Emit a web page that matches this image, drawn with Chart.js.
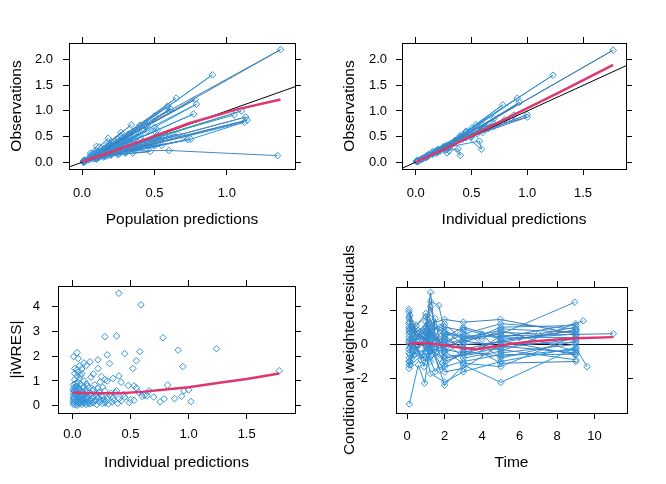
<!DOCTYPE html>
<html><head><meta charset="utf-8">
<script src="https://cdn.jsdelivr.net/npm/chart.js@4.4.0/dist/chart.umd.min.js"></script>
<style>
html,body{margin:0;padding:0;background:#fff;}
body{width:666px;height:484px;position:relative;overflow:hidden;}
canvas{position:absolute;}
</style></head><body>
<canvas id="c1" width="333" height="242" style="left:0;top:0"></canvas>
<canvas id="c2" width="333" height="242" style="left:333px;top:0"></canvas>
<canvas id="c3" width="333" height="242" style="left:0;top:242px"></canvas>
<canvas id="c4" width="333" height="254" style="left:333px;top:230px"></canvas>
<script>
// ---------- Panel 1: Observations vs Population predictions (one list per ID) ----------
const dvPredIds = [
 [[0.01,0.02],[0.1,0.16],[0.3,0.5],[0.6,1.0],[1.37,2.19],[0.45,0.72],[0.15,0.22]],
 [[0.02,0.03],[0.12,0.22],[0.35,0.6],[0.9,1.7],[0.5,0.9],[0.2,0.33],[0.05,0.08]],
 [[0.01,0.02],[0.08,0.14],[0.25,0.45],[0.65,1.25],[0.4,0.72],[0.15,0.27]],
 [[0.02,0.03],[0.15,0.22],[0.33,0.52],[0.78,1.22],[0.44,0.7],[0.18,0.3]],
 [[0.01,0.01],[0.1,0.14],[0.3,0.43],[0.79,1.13],[0.5,0.68],[0.2,0.28]],
 [[0.02,0.04],[0.1,0.18],[0.27,0.5],[0.59,1.09],[0.35,0.6],[0.12,0.2]],
 [[0.01,0.02],[0.14,0.24],[0.32,0.55],[0.61,1.04],[0.42,0.66],[0.16,0.25]],
 [[0.01,0.01],[0.12,0.15],[0.35,0.42],[0.77,0.94],[0.5,0.6],[0.2,0.25]],
 [[0.02,0.02],[0.15,0.12],[0.4,0.33],[1.13,0.88],[0.6,0.48],[0.25,0.2]],
 [[0.01,0.01],[0.2,0.15],[0.5,0.38],[1.14,0.82],[0.7,0.5],[0.3,0.22]],
 [[0.02,0.02],[0.18,0.13],[0.45,0.32],[1.12,0.78],[0.75,0.45],[0.3,0.18]],
 [[0.01,0.02],[0.1,0.12],[0.3,0.22],[0.6,0.23],[1.35,0.13]],
 [[0.01,0.01],[0.1,0.08],[0.3,0.2],[0.73,0.44],[0.5,0.32],[0.25,0.15]],
 [[0.02,0.03],[0.1,0.16],[0.44,0.7],[0.3,0.45],[0.12,0.18]],
 [[0.01,0.02],[0.1,0.2],[0.34,0.73],[0.2,0.4],[0.06,0.12]],
 [[0.01,0.02],[0.08,0.16],[0.27,0.58],[0.18,0.36]],
 [[0.01,0.02],[0.06,0.14],[0.18,0.47],[0.12,0.3]],
 [[0.01,0.03],[0.1,0.31],[0.06,0.18]],
 [[0.01,0.01],[0.1,0.06],[0.25,0.15],[0.47,0.21],[0.35,0.18]],
 [[0.02,0.02],[0.15,0.1],[0.4,0.3],[0.55,0.33],[0.3,0.22]],
 [[0.02,0.02],[0.2,0.2],[0.5,0.48],[1.1,1.0],[0.6,0.55],[0.25,0.22]],
 [[0.01,0.01],[0.1,0.1],[0.42,0.4],[0.32,0.3],[0.1,0.09]],
 [[0.02,0.02],[0.12,0.12],[0.3,0.3],[0.22,0.2]],
 [[0.01,0.01],[0.1,0.12],[0.38,0.5],[0.28,0.38],[0.08,0.1]],
 [[0.02,0.02],[0.15,0.2],[0.52,0.62],[0.4,0.48],[0.15,0.17]],
 [[0.01,0.01],[0.2,0.18],[0.66,0.55],[0.45,0.4]],
 [[0.01,0.01],[0.08,0.06],[0.25,0.18],[0.35,0.26],[0.2,0.14]],
 [[0.01,0.02],[0.05,0.06],[0.15,0.17],[0.22,0.26],[0.1,0.11]],
 [[0.01,0.01],[0.05,0.05],[0.18,0.22],[0.4,0.55],[0.3,0.38],[0.12,0.14]],
 [[0.02,0.02],[0.1,0.09],[0.28,0.26],[0.48,0.45],[0.36,0.35],[0.14,0.13]],
 [[0.01,0.01],[0.07,0.08],[0.2,0.28],[0.32,0.4],[0.25,0.3],[0.09,0.1]],
 [[0.02,0.03],[0.12,0.1],[0.35,0.25],[0.5,0.35],[0.38,0.28],[0.16,0.12]],
 [[0.01,0.02],[0.08,0.1],[0.22,0.3],[0.45,0.62],[0.33,0.46],[0.12,0.15]],
 [[0.02,0.02],[0.15,0.18],[0.38,0.36],[0.55,0.48],[0.42,0.4],[0.2,0.19]]
];
const dvPredTeal = [[0.01,0.02],[0.1,0.12],[0.25,0.28],[0.52,0.5],[1.05,0.92]];
const dvPredLoess = [[0.0,0.01],[0.2,0.2],[0.46,0.47],[0.74,0.76],[1.07,1.03],[1.37,1.22]];

// ---------- Panel 2: Observations vs Individual predictions ----------
const dvIpredIds = [
 [[0.01,0.02],[0.1,0.12],[0.35,0.42],[0.7,0.85],[1.77,2.19],[0.6,0.72],[0.2,0.24]],
 [[0.02,0.03],[0.15,0.2],[0.45,0.6],[1.23,1.70],[0.5,0.66],[0.18,0.22]],
 [[0.01,0.02],[0.12,0.14],[0.4,0.48],[0.91,1.25],[0.45,0.58],[0.15,0.17]],
 [[0.02,0.02],[0.2,0.22],[0.5,0.6],[0.93,1.17],[0.55,0.62],[0.2,0.2]],
 [[0.01,0.01],[0.15,0.2],[0.4,0.52],[0.78,1.12],[0.4,0.5],[0.12,0.15]],
 [[0.02,0.02],[0.2,0.2],[0.55,0.55],[1.00,0.93],[0.6,0.58],[0.25,0.26]],
 [[0.01,0.01],[0.18,0.17],[0.5,0.5],[1.0,0.88],[0.7,0.7],[0.3,0.3]],
 [[0.02,0.02],[0.2,0.22],[0.45,0.5],[0.59,0.25],[0.57,0.41],[0.3,0.3]],
 [[0.01,0.02],[0.15,0.16],[0.3,0.33],[0.40,0.13],[0.38,0.26],[0.2,0.2]],
 [[0.02,0.03],[0.2,0.22],[0.54,0.73],[0.35,0.42],[0.1,0.11]],
 [[0.01,0.01],[0.12,0.14],[0.45,0.6],[0.7,0.75],[0.35,0.38],[0.1,0.1]],
 [[0.02,0.02],[0.1,0.1],[0.3,0.33],[0.28,0.18],[0.22,0.22]],
 [[0.01,0.01],[0.08,0.09],[0.25,0.28],[0.5,0.5],[0.32,0.34],[0.1,0.12]],
 [[0.02,0.02],[0.2,0.24],[0.62,0.7],[0.8,0.83],[0.42,0.46]],
 [[0.01,0.01],[0.06,0.06],[0.18,0.2],[0.35,0.4],[0.22,0.24],[0.05,0.05]],
 [[0.02,0.03],[0.1,0.1],[0.22,0.25],[0.15,0.16]],
 [[0.01,0.01],[0.05,0.06],[0.15,0.16],[0.1,0.1]],
 [[0.02,0.02],[0.3,0.32],[0.45,0.48],[0.6,0.66],[0.42,0.45]],
 [[0.01,0.01],[0.33,0.36],[0.3,0.22],[0.25,0.27]],
 [[0.02,0.02],[0.65,0.66],[0.85,0.86],[0.5,0.52]],
 [[0.01,0.01],[0.25,0.3],[0.36,0.42],[0.28,0.33],[0.08,0.09]],
 [[0.02,0.02],[0.12,0.15],[0.2,0.24],[0.26,0.3],[0.16,0.18]],
 [[0.01,0.01],[0.07,0.08],[0.17,0.19],[0.27,0.3],[0.19,0.2],[0.06,0.07]],
 [[0.02,0.02],[0.11,0.13],[0.24,0.27],[0.4,0.44],[0.29,0.31],[0.09,0.1]]
];
const dvIpredTeal = [[0.01,0.02],[0.2,0.22],[0.5,0.55],[0.88,0.92]];
const dvIpredLoess = [[0.0,0.0],[0.3,0.3],[0.6,0.62],[0.92,0.97],[1.3,1.38],[1.77,1.9]];

// ---------- Panel 3: |iWRES| vs Individual predictions ----------
const iwresPoints = [
 [0.40,4.53],[0.59,4.06],[0.28,2.78],[0.38,2.81],[0.78,2.74],[1.24,2.30],[0.91,2.24],[0.58,2.18],
 [0.45,2.10],[0.30,2.05],[0.04,2.14],[0.01,1.98],[0.95,1.58],[0.55,1.81],[0.52,1.50],[0.32,1.70],
 [0.22,1.85],[0.22,1.50],[0.15,1.77],[0.10,1.72],[0.06,1.60],[0.04,1.45],[0.02,1.50],[0.08,1.48],
 [0.05,1.90],[0.12,1.62],[0.18,1.28],[0.25,1.18],[0.40,1.20],[0.35,1.10],[0.42,0.95],[0.30,1.00],
 [0.28,1.05],[0.48,0.82],[0.53,0.80],[0.55,0.72],[0.62,0.42],[0.64,0.40],[0.60,0.38],[0.82,0.83],
 [1.78,1.41],[1.02,0.17],[0.755,0.16],[0.79,0.28],[0.88,0.29],[0.94,0.38],[0.96,0.60],[1.0,0.64],
 [0.49,0.13],[0.45,0.35],[0.40,0.28],[0.36,0.22],[0.38,0.60],[0.33,0.50],[0.26,0.35],
 [0.01,0.05],[0.01,0.20],[0.01,0.35],[0.01,0.55],[0.01,0.70],[0.01,0.85],[0.02,0.10],[0.02,0.45],
 [0.02,1.05],[0.03,0.15],[0.03,0.30],[0.03,0.62],[0.03,0.90],[0.04,0.02],[0.04,0.40],[0.04,0.78],
 [0.04,1.20],[0.05,0.22],[0.05,0.50],[0.05,0.95],[0.06,0.08],[0.06,0.32],[0.06,0.68],[0.06,1.10],
 [0.07,0.15],[0.07,0.45],[0.07,0.85],[0.08,0.05],[0.08,0.28],[0.08,0.58],[0.08,1.30],[0.09,0.18],
 [0.09,0.38],[0.09,0.75],[0.10,0.10],[0.10,0.48],[0.10,1.00],[0.11,0.25],[0.11,0.62],[0.12,0.05],
 [0.12,0.35],[0.12,0.88],[0.13,0.15],[0.13,0.55],[0.14,0.30],[0.14,0.72],[0.15,0.08],[0.15,0.42],
 [0.16,0.20],[0.16,1.15],[0.17,0.60],[0.18,0.12],[0.18,0.35],[0.19,0.85],[0.20,0.22],[0.20,0.50],
 [0.21,0.05],[0.22,0.30],[0.22,0.70],[0.23,0.15],[0.24,0.95],[0.25,0.40],[0.26,0.10],[0.27,0.25],
 [0.28,0.60],[0.29,0.18],[0.30,0.30],[0.31,0.08],[0.32,0.42],[0.34,0.15],[0.35,0.30],[0.37,0.52],
 [0.39,0.10],[0.42,0.20],[0.44,0.45],[0.50,0.25],[0.53,0.22],[0.57,0.55],[0.70,0.35],[0.66,0.60],
 [0.01,0.12],[0.01,0.28],[0.01,0.45],[0.01,0.62],[0.02,0.75],[0.02,0.25],[0.02,0.60],[0.03,0.05],
 [0.03,0.48],[0.03,0.78],[0.04,0.25],[0.04,0.60],[0.05,0.12],[0.05,0.35],[0.05,0.70],[0.06,0.20],
 [0.06,0.50],[0.07,0.30],[0.07,0.62],[0.08,0.15],[0.08,0.42],[0.09,0.25],[0.09,0.55],[0.10,0.30],
 [0.10,0.75],[0.11,0.12],[0.11,0.45],[0.12,0.22],[0.13,0.35],[0.13,0.80],[0.14,0.10],[0.15,0.25],
 [0.16,0.50],[0.17,0.30],[0.18,0.65],[0.19,0.20],[0.21,0.38],[0.23,0.55],[0.24,0.25],[0.26,0.75],
 [0.28,0.12],[0.05,1.35],[0.07,1.22],[0.02,1.30]
];
const iwresLoess = [[0,0.52],[0.2,0.5],[0.4,0.5],[0.6,0.56],[0.8,0.66],[1.0,0.75],[1.25,0.92],[1.5,1.08],[1.78,1.3]];

// ---------- Panel 4: CWRES vs Time (one list per ID) ----------
const cwresIds = [
 [[0.1,2.03],[0.5,0.4],[1.0,0.8],[1.25,3.03],[1.5,0.5],[2,-0.3],[3,-0.5],[5,0.2],[9,0.8]],
 [[0.12,-3.48],[0.6,-1.2],[0.94,-2.26],[1.25,0.2],[2,-2.38],[3,-1.2],[5,-2.22],[9,-0.2]],
 [[0.1,1.9],[0.3,0.2],[1.0,1.0],[1.25,2.5],[1.69,2.26],[2,0.8],[3,0.3],[5,0.6],[8.94,2.45]],
 [[0.15,1.7],[0.5,0.7],[1.0,0.3],[1.25,1.2],[2,1.45],[3,1.29],[4.98,1.45],[9,0.6]],
 [[0.1,-1.4],[0.25,-0.8],[1.0,-0.5],[1.25,-1.7],[2,-2.2],[3,-1.6],[5,-1.0],[9,-0.2],[9.6,-1.3]],
 [[0.12,1.5],[0.3,0.6],[1.1,1.2],[1.3,0.5],[2,0.2],[3,-0.8],[5,-0.4],[9.39,1.37]],
 [[0.1,0.6],[0.5,0.2],[1.0,-0.2],[1.25,0.9],[1.75,-0.6],[2,-1.0],[4,-0.2],[5,0.5],[11,0.62]],
 [[0.15,-0.6],[0.4,0.3],[1.0,0.5],[1.2,-0.8],[1.5,-1.6],[2,-0.5],[3,0.1],[5,1.0],[9,1.1]],
 [[0.1,1.2],[0.2,0.0],[0.75,0.5],[1.25,1.5],[1.5,0.2],[2,1.0],[3,0.8],[5,-0.8],[9,0.2]],
 [[0.12,0.0],[0.3,-0.3],[1.0,0.1],[1.2,-0.2],[1.75,0.3],[2,0.5],[3,-0.3],[5,0.2],[9,-0.6]],
 [[0.1,-1.0],[0.2,-1.2],[0.8,-0.6],[1.25,0.4],[1.5,1.5],[2,-1.3],[3,-1.0],[5,-0.6],[8.94,-0.58]],
 [[0.12,0.9],[0.4,1.0],[1.0,1.6],[1.25,0.3],[2,0.1],[3,0.6],[5,1.2],[9,0.9]],
 [[0.1,-0.3],[0.3,0.1],[1.0,-1.0],[1.3,-0.4],[2,-0.8],[4,-0.5],[5,-1.1],[9,-1.0]],
 [[0.15,0.3],[0.6,0.8],[1.1,0.6],[1.25,1.1],[2,0.7],[3,0.5],[6,0.4],[9,0.4]],
 [[0.1,1.6],[0.25,0.9],[1.0,0.2],[1.2,0.7],[2,-0.4],[3,0.4],[5,0.8],[9,-0.4]],
 [[0.12,-0.8],[0.5,-0.4],[0.9,0.4],[1.25,-0.1],[2,-1.6],[3,-1.4],[5,0.0],[9,0.1]],
 [[0.1,0.4],[0.3,0.0],[1.0,1.3],[1.3,0.0],[1.75,-0.2],[3,0.9],[5,0.3],[9,0.6]],
 [[0.15,-0.2],[0.4,-0.6],[1.0,-0.8],[1.25,-0.6],[2,0.3],[3,-0.2],[5,-0.3],[9,-0.9]],
 [[0.1,1.0],[0.5,0.5],[1.0,0.7],[1.25,-0.4],[2,-0.1],[5,0.7],[7,0.6],[9,1.0]],
 [[0.12,-1.2],[0.3,-0.5],[1.1,-0.3],[1.3,1.0],[2,-0.7],[3,-0.6],[5,-0.2],[9,0.3]],
 [[0.1,0.2],[0.6,0.3],[1.0,0.4],[1.25,0.6],[2,0.0],[4,0.6],[5,-0.5],[9,0.0]],
 [[0.1,0.8],[0.3,1.2],[1.0,-0.4],[1.25,2.2],[1.5,1.0],[2,0.4],[3,1.0],[5,0.4],[9,1.2]],
 [[0.15,-1.0],[0.5,-0.2],[0.9,-1.3],[1.2,0.0],[1.75,-1.5],[2,-1.2],[3,-0.4],[5,-0.7],[9,-0.3]],
 [[0.1,0.1],[0.25,0.6],[1.0,0.9],[1.25,-1.0],[1.5,-0.5],[2,0.6],[4,0.3],[5,0.9],[9,0.7]],
 [[0.12,1.3],[0.4,-0.2],[1.0,0.0],[1.3,0.8],[2,1.2],[3,0.2],[5,-0.1],[9,-0.5]],
 [[0.1,-0.5],[0.3,0.4],[0.75,-0.9],[1.25,0.5],[1.5,-0.3],[2,-0.4],[3,-1.1],[5,-1.3],[9,0.5]],
 [[0.15,0.7],[0.5,1.1],[1.0,1.8],[1.25,-0.3],[1.75,1.0],[3,0.0],[5,0.1],[9,0.85]]
];
const cwresLoess = [[0.1,0.05],[1,0.08],[2,-0.05],[3,-0.22],[3.7,-0.28],[4.5,-0.15],[5.5,0.02],[6.5,0.15],[8,0.28],[9,0.35],[11,0.42]];

// ---------- Tick values ----------
const ticksP1x = [0, 0.5, 1.0];
const ticksP1y = [0, 0.5, 1.0, 1.5, 2.0];
const ticksP2x = [0, 0.5, 1.0, 1.5];
const ticksP2y = [0, 0.5, 1.0, 1.5, 2.0];
const ticksP3x = [0, 0.5, 1.0, 1.5];
const ticksP3y = [0, 1, 2, 3, 4];
const ticksP4x = [0, 2, 4, 6, 8, 10];
const ticksP4y = [-2, 0, 2];

// ---------- Styling ----------
const FONT = "'Liberation Sans', Arial, sans-serif";
const LINE_COLS = ['#3b7cb8', '#2a94dc', '#4688c4'];
const PT_COL = '#3392d8';
const PINK = '#e0356e';
const TEAL = '#1fa89a';

const pts = arr => arr.map(p => ({x: p[0], y: p[1]}));
const fmt1 = v => v.toFixed(1);
const fmt0 = v => String(v);

function idSets(ids) {
  return ids.map((d, i) => ({
    data: pts(d), showLine: true, borderColor: LINE_COLS[i % LINE_COLS.length], borderWidth: 1,
    pointStyle: 'rectRot', pointRadius: 3.3, pointHoverRadius: 3.3, pointBorderWidth: 1,
    pointBorderColor: PT_COL, pointBackgroundColor: 'rgba(0,0,0,0)'
  }));
}
function lineSet(d, col, w) {
  return {data: pts(d), showLine: true, borderColor: col, borderWidth: w, pointRadius: 0, pointHoverRadius: 0};
}

function axes(c) {
  const gridBase = {drawOnChartArea: false, drawTicks: true, tickLength: 6, color: '#000', tickColor: '#000', tickWidth: 1};
  const border = {display: true, color: '#000', width: 1};
  const tickFont = {family: FONT, size: 13};
  const titleFont = {family: FONT, size: 15.5};
  const setX = a => { a.ticks = c.xTicks.map(v => ({value: v})); };
  const setY = a => { a.ticks = c.yTicks.map(v => ({value: v})); };
  const yGrid = Object.assign({}, gridBase);
  if (c.zero) {
    yGrid.drawOnChartArea = true;
    yGrid.color = ctx => (ctx.tick && ctx.tick.value === 0) ? '#000' : 'rgba(0,0,0,0)';
  }
  return {
    x: {type: 'linear', position: 'bottom', min: c.xMin, max: c.xMax,
        afterBuildTicks: setX, afterFit: s => { s.height = c.bottom; },
        ticks: {autoSkip: false, maxRotation: 0, padding: c.xPad, color: '#000', font: tickFont, callback: v => c.xFmt(v)},
        grid: gridBase, border: border,
        title: {display: true, text: c.xTitle, color: '#000', font: titleFont, padding: {top: 0, bottom: c.xTitlePad}}},
    x2: {type: 'linear', position: 'top', min: c.xMin, max: c.xMax,
        afterBuildTicks: setX, afterFit: s => { s.height = c.top; },
        ticks: {display: false}, grid: gridBase, border: border},
    y: {type: 'linear', position: 'left', min: c.yMin, max: c.yMax,
        afterBuildTicks: setY, afterFit: s => { s.width = c.left; },
        ticks: {autoSkip: false, padding: c.yPad, color: '#000', font: tickFont, callback: v => c.yFmt(v)},
        grid: yGrid, border: border,
        title: {display: true, text: c.yTitle, color: '#000', font: titleFont, padding: {top: c.yTitlePad, bottom: 0}}},
    y2: {type: 'linear', position: 'right', min: c.yMin, max: c.yMax,
        afterBuildTicks: setY, afterFit: s => { s.width = c.right; },
        ticks: {display: false}, grid: gridBase, border: border}
  };
}

function make(id, datasets, c) {
  new Chart(document.getElementById(id), {
    type: 'scatter',
    data: {datasets: datasets},
    options: {
      responsive: false, animation: false, devicePixelRatio: 1,
      layout: {padding: 0, autoPadding: false},
      plugins: {legend: {display: false}, tooltip: {enabled: false}},
      events: [],
      scales: axes(c)
    }
  });
}

// Panel 1
(function(){
  const c = {xMin: -0.09, xMax: 1.47, yMin: -0.13, yMax: 2.32, xTicks: ticksP1x, yTicks: ticksP1y,
    xFmt: fmt1, yFmt: fmt1, xTitle: 'Population predictions', yTitle: 'Observations',
    left: 69, right: 38, top: 43, bottom: 73, xPad: 11, yPad: 10, xTitlePad: 12.5, yTitlePad: 7};
  const ds = [lineSet(dvPredLoess, PINK, 2.5)]
    .concat([lineSet([[c.xMin, c.xMin], [c.xMax, c.xMax]], '#000', 1)])
    .concat([Object.assign(idSets([dvPredTeal])[0], {borderColor: TEAL})])
    .concat(idSets(dvPredIds));
  make('c1', ds, c);
})();
// Panel 2
(function(){
  const c = {xMin: -0.123, xMax: 1.885, yMin: -0.135, yMax: 2.33, xTicks: ticksP2x, yTicks: ticksP2y,
    xFmt: fmt1, yFmt: fmt1, xTitle: 'Individual predictions', yTitle: 'Observations',
    left: 69, right: 40, top: 43, bottom: 73, xPad: 11, yPad: 9, xTitlePad: 12.5, yTitlePad: 7};
  const ds = [lineSet(dvIpredLoess, PINK, 2.5)]
    .concat([lineSet([[c.xMin, c.xMin], [c.xMax, c.xMax]], '#000', 1)])
    .concat([Object.assign(idSets([dvIpredTeal])[0], {borderColor: TEAL})])
    .concat(idSets(dvIpredIds));
  make('c2', ds, c);
})();
// Panel 3
(function(){
  const c = {xMin: -0.124, xMax: 1.916, yMin: -0.29, yMax: 4.82, xTicks: ticksP3x, yTicks: ticksP3y,
    xFmt: fmt1, yFmt: fmt0, xTitle: 'Individual predictions', yTitle: '|iWRES|',
    left: 58, right: 38, top: 44, bottom: 71, xPad: 8, yPad: 12, xTitlePad: 11.5, yTitlePad: 7};
  const ds = [lineSet(iwresLoess, PINK, 2.5),
    {data: pts(iwresPoints), showLine: false, pointStyle: 'rectRot', pointRadius: 3.3, pointHoverRadius: 3.3,
     pointBorderWidth: 1, pointBorderColor: PT_COL, pointBackgroundColor: 'rgba(0,0,0,0)'}];
  make('c3', ds, c);
})();
// Panel 4
(function(){
  const c = {xMin: -0.59, xMax: 11.73, yMin: -4.0, yMax: 3.34, xTicks: ticksP4x, yTicks: ticksP4y,
    xFmt: fmt0, yFmt: fmt0, xTitle: 'Time', yTitle: 'Conditional weighted residuals',
    left: 63, right: 39, top: 57, bottom: 71, xPad: 10, yPad: 22, xTitlePad: 11.5, yTitlePad: 7.5, zero: true};
  const ds = [lineSet(cwresLoess, PINK, 2.5)].concat(idSets(cwresIds));
  make('c4', ds, c);
})();
</script>
</body></html>
